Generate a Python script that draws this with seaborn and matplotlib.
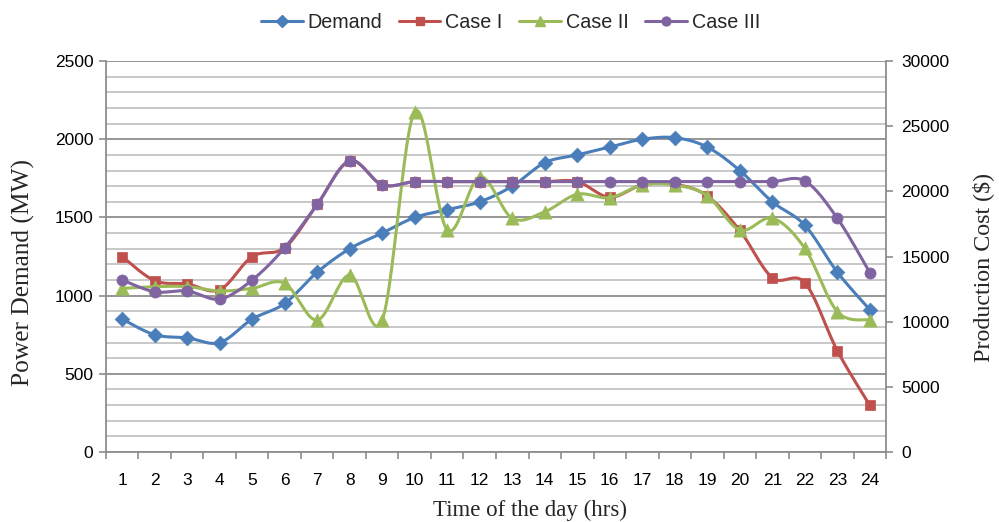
import numpy as np
import pandas as pd
import matplotlib
matplotlib.use("Agg")
import matplotlib.pyplot as plt
from matplotlib.lines import Line2D
from matplotlib.ticker import MultipleLocator
import seaborn as sns

hours = list(range(1, 25))
demand = [850, 750, 730, 700, 850, 950, 1150, 1300, 1400, 1500, 1550, 1600,
          1700, 1850, 1900, 1950, 2000, 2010, 1950, 1800, 1600, 1450, 1150, 910]
case1 = [15000, 13150, 12900, 12450, 15000, 15680, 19000, 22350, 20500, 20750, 20750, 20750,
         20750, 20750, 20750, 19550, 20500, 20550, 19650, 17000, 13380, 12990, 7770, 3580]
case2 = [12560, 12690, 12690, 12360, 12560, 12950, 10130, 13580, 10130, 26120, 17040, 21130,
         17940, 18440, 19780, 19520, 20490, 20490, 19670, 17040, 17940, 15630, 10770, 10130]
case3 = [13200, 12300, 12360, 11740, 13200, 15680, 19000, 22350, 20500, 20750, 20750, 20750,
         20750, 20750, 20750, 20750, 20750, 20750, 20750, 20750, 20750, 20800, 17940, 13760]

colors = {"Demand": "#4A7EBB", "Case I": "#C0504D", "Case II": "#9BBB59", "Case III": "#8064A2"}
markers = {"Demand": "D", "Case I": "s", "Case II": "^", "Case III": "o"}
msizes = {"Demand": 7.5, "Case I": 7.5, "Case II": 9.5, "Case III": 8}


def smooth(xs, ys, n=24):
    """Excel-style smoothed line: cubic Bezier segments with Catmull-Rom control points."""
    p = np.column_stack([xs, ys]).astype(float)
    ext = np.vstack([p[0], p, p[-1]])
    out = []
    t = np.linspace(0, 1, n, endpoint=False)[:, None]
    for i in range(len(p) - 1):
        p0, p1, p2, p3 = ext[i], ext[i + 1], ext[i + 2], ext[i + 3]
        c1 = p1 + (p2 - p0) / 6.0
        c2 = p2 - (p3 - p1) / 6.0
        seg = ((1 - t) ** 3) * p1 + 3 * ((1 - t) ** 2) * t * c1 + 3 * (1 - t) * t ** 2 * c2 + t ** 3 * p2
        out.append(seg)
    out.append(p[-1][None, :])
    arr = np.vstack(out)
    return arr[:, 0], arr[:, 1]


sns.set_theme(style="white")
plt.rcParams["font.family"] = ["Liberation Sans", "DejaVu Sans"]

fig = plt.figure(figsize=(9.99, 5.22), dpi=100)
ax = fig.add_axes([0.106, 0.134, 0.781, 0.749])
ax2 = ax.twinx()

# grid from left axis
ax.set_ylim(0, 2500)
ax.set_xlim(0.5, 24.5)
ax.yaxis.set_major_locator(MultipleLocator(500))
ax.yaxis.set_minor_locator(MultipleLocator(100))
ax.grid(True, which="minor", axis="y", color="#c4c4c4", lw=1.3)
ax.grid(True, which="major", axis="y", color="#8e8e8e", lw=1.3)
ax.grid(False, axis="x")
ax.set_axisbelow(True)

def draw(axis, name, vals, z):
    sx, sy = smooth(hours, vals)
    sns.lineplot(x=sx, y=sy, ax=axis, color=colors[name], lw=2.2, sort=False,
                 estimator=None, zorder=z, legend=False)
    sns.scatterplot(x=hours, y=vals, ax=axis, color=colors[name], marker=markers[name],
                    s=msizes[name] ** 2, edgecolor=colors[name], linewidth=0.5,
                    zorder=z + 0.5, legend=False)

draw(ax, "Demand", demand, 3)
draw(ax2, "Case I", case1, 3)
draw(ax2, "Case II", case2, 4)
draw(ax2, "Case III", case3, 5)

ax2.set_ylim(0, 30000)
ax2.yaxis.set_major_locator(MultipleLocator(5000))
ax2.grid(False)

ax.set_xticks(hours)
ax.set_xticklabels([str(h) for h in hours])
ax.xaxis.set_minor_locator(MultipleLocator(1, offset=0.5))

for a in (ax, ax2):
    for s in a.spines.values():
        s.set_visible(False)
    a.set_xlabel("")
    a.set_ylabel("")
ax.spines["left"].set_visible(True)
ax.spines["bottom"].set_visible(True)
ax2.spines["right"].set_visible(True)
for s in (ax.spines["left"], ax.spines["bottom"], ax2.spines["right"]):
    s.set_color("#8e8e8e")
    s.set_linewidth(1.3)

ax.tick_params(axis="y", which="major", left=True, length=5, width=1.2, color="#8e8e8e",
               labelsize=12.5, pad=4, labelcolor="black")
ax.tick_params(axis="y", which="minor", left=False)
ax.tick_params(axis="x", which="major", bottom=False, labelsize=12.5, pad=9, labelcolor="black")
ax.tick_params(axis="x", which="minor", bottom=True, length=5, width=1.2, color="#8e8e8e")
ax2.tick_params(axis="y", which="major", right=True, length=5, width=1.2, color="#8e8e8e",
                labelsize=12.5, pad=6, labelcolor="black")

serif = ["Liberation Serif", "DejaVu Serif"]
ax.set_ylabel("Power Demand (MW)", fontsize=18.3, family=serif)
ax2.set_ylabel("Production Cost ($)", fontsize=17.3, family=serif, rotation=90)
ax.set_xlabel("Time of the day (hrs)", fontsize=16.5, family=serif)
for lab in (ax.yaxis.label, ax2.yaxis.label, ax.xaxis.label):
    lab.set_verticalalignment("center")
    lab.set_horizontalalignment("center")
ax.yaxis.set_label_coords(-0.106, 0.460)
ax2.yaxis.set_label_coords(1.124, 0.471)
ax.xaxis.set_label_coords(0.544, -0.148)

handles = [Line2D([0], [0], color=colors[n], lw=2.2, marker=markers[n],
                  markersize=msizes[n] * 0.8, markeredgecolor=colors[n])
           for n in ["Demand", "Case I", "Case II", "Case III"]]
fig.legend(handles, ["Demand", "Case I", "Case II", "Case III"], loc="upper center",
           bbox_to_anchor=(0.511, 1.01), ncol=4, frameon=False, fontsize=14.2,
           handlelength=2.1, columnspacing=0.85, handletextpad=0.25)

fig.savefig("out.png", dpi=100)
